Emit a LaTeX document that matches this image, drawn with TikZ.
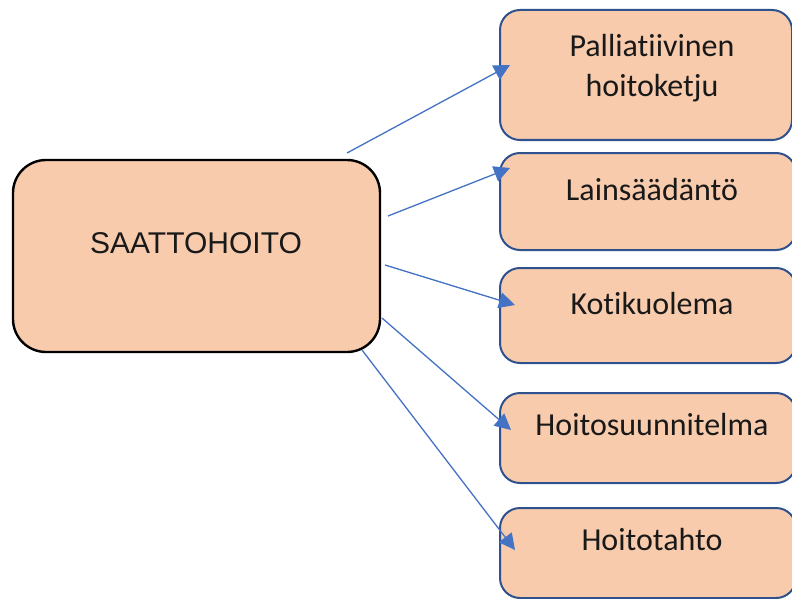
\documentclass[tikz,border=0pt]{standalone}
\usepackage{fontspec}
\setmainfont{Carlito}[RawFeature={-liga;-clig;-dlig}]
\newfontfamily\arialfont{Liberation Sans}
\usetikzlibrary{arrows.meta}
\definecolor{boxfill}{HTML}{F8CBAD}
\definecolor{boxline}{HTML}{2F528F}
\definecolor{arrowblue}{HTML}{4472C4}
\tikzset{
  mainbox/.style={draw=black, line width=2.4pt, fill=boxfill, rounded corners=33pt,
    anchor=north west, inner sep=0pt, outer sep=0pt},
  sidebox/.style={draw=boxline, line width=2pt, fill=boxfill, rounded corners=20pt,
    anchor=north west, inner sep=0pt, outer sep=0pt},
  sidetext/.style={font=\fontsize{32}{40}\selectfont, text=black!90, anchor=base, inner sep=0pt, align=center},
  maintext/.style={font=\arialfont\fontsize{30}{36}\selectfont, text=black!90, anchor=base, inner sep=0pt},
  link/.style={draw=arrowblue, line width=1.3pt, -{Triangle[length=16pt,width=16pt]}}
}
\begin{document}
\begin{tikzpicture}[x=1pt,y=-1pt]
\useasboundingbox (0,0) rectangle (792,599);
% main box
\node[mainbox, minimum width=367pt, minimum height=192pt] (main) at (13,160) {};
\node[maintext] (maint) at (196,253) {SAATTOHOITO};
% side boxes
\node[sidebox, minimum width=292pt, minimum height=130pt] (b1) at (500,10) {};
\node[sidebox, minimum width=296pt, minimum height=97pt] (b2) at (500,153) {};
\node[sidebox, minimum width=296pt, minimum height=95pt] (b3) at (500,268) {};
\node[sidebox, minimum width=296pt, minimum height=90pt] (b4) at (500,393) {};
\node[sidebox, minimum width=296pt, minimum height=90pt] (b5) at (500,508) {};
\node[sidetext] (t1) at (652,97) {Palliatiivinen\\hoitoketju};
\node[sidetext] (t2) at (652,200) {Lainsäädäntö};
\node[sidetext] (t3) at (652,314) {Kotikuolema};
\node[sidetext] (t4) at (652,435) {Hoitosuunnitelma};
\node[sidetext] (t5) at (652,550) {Hoitotahto};
% connector ends
\coordinate (s1) at (347,153); \coordinate (e1) at (510,65);
\coordinate (s2) at (388,216); \coordinate (e2) at (510,168);
\coordinate (s3) at (385,265); \coordinate (e3) at (515,305);
\coordinate (s4) at (382,318); \coordinate (e4) at (511,430);
\coordinate (s5) at (362,350); \coordinate (e5) at (515,550);
\draw[link] (s1) -- (e1);
\draw[link] (s2) -- (e2);
\draw[link] (s3) -- (e3);
\draw[link] (s4) -- (e4);
\draw[link] (s5) -- (e5);
\end{tikzpicture}
\end{document}
